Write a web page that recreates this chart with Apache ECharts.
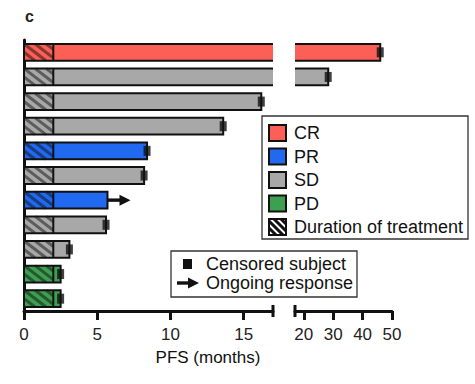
<!DOCTYPE html>
<html>
<head>
<meta charset="utf-8">
<script src="https://cdn.jsdelivr.net/npm/echarts@6/dist/echarts.min.js"></script>
<style>
  html, body { margin: 0; padding: 0; background: #fff; }
  #chart { width: 475px; height: 384px; }
</style>
</head>
<body>
<div id="chart"></div>
<script>
// Swimmer plot: progression-free survival per subject on a broken time axis.
const subjects = ['1', '2', '3', '4', '5', '6', '7', '8', '9', '10', '11'];
const response = ['CR', 'SD', 'SD', 'SD', 'PR', 'SD', 'PR', 'SD', 'SD', 'PD', 'PD'];
const pfsMonths = [46, 28.3, 16.2, 13.6, 8.4, 8.2, 5.7, 5.6, 3.1, 2.5, 2.5];
const treatmentMonths = [2, 2, 2, 2, 2, 2, 2, 2, 2, 2, 2];
const censored = [true, true, true, true, true, true, false, true, true, true, true];
const ongoing = [false, false, false, false, false, false, true, false, false, false, false];
const responseTypes = ['CR', 'PR', 'SD', 'PD'];
const responseColors = { CR: '#fb5f56', PR: '#2169ef', SD: '#a8a8a8', PD: '#3d9f50' };
const lowTicks = [0, 5, 10, 15];
const highTicks = [20, 30, 40, 50];
const axisBreak = 17;   // end of the linear segment, start of the compressed one
const axisEnd = 50;
const axisTitle = 'PFS (months)';
const panelLabel = 'c';

const FONT = '"Liberation Sans", Arial, Helvetica, sans-serif';
const INK = '#111';
const GRID_TOP = 40, GRID_H = 271;
const BAR_FRAC = 0.68;

// Clip a set of "\" hatch strokes (run = horizontal travel per unit height) to a rectangle
function hatchLines(x0, x1, y0, y1, step, run, style) {
  const h = y1 - y0;
  const w = h * run;
  const out = [];
  for (let s = x0 - w; s < x1; s += step) {
    const tMin = Math.max(0, (x0 - s) / w);
    const tMax = Math.min(1, (x1 - s) / w);
    if (tMax <= tMin) continue;
    out.push({
      type: 'line',
      shape: { x1: s + tMin * w, y1: y0 + tMin * h, x2: s + tMax * w, y2: y0 + tMax * h },
      style: style
    });
  }
  return out;
}

function barRenderer(startVal, isHigh) {
  return function (params, api) {
    const end = api.value(0);
    const row = api.value(1);
    const band = api.size([0, 1])[1];
    const h = band * BAR_FRAC;
    const pa = api.coord([startVal, row]);
    const pb = api.coord([end, row]);
    const x0 = pa[0], x1 = pb[0];
    const y0 = pa[1] - h / 2, y1 = pa[1] + h / 2;
    const children = [{
      type: 'rect',
      shape: { x: x0, y: y0, width: x1 - x0, height: h },
      style: { fill: responseColors[response[row]] }
    }];
    if (!isHigh) {
      const xt = api.coord([treatmentMonths[row], row])[0];
      children.push.apply(children, hatchLines(x0, xt, y0, y1, 11, 1.3,
        { stroke: 'rgba(15,15,15,0.5)', lineWidth: 3 }));
      children.push({
        type: 'line', shape: { x1: xt, y1: y0, x2: xt, y2: y1 },
        style: { stroke: INK, lineWidth: 2 }
      });
    }
    const openRight = !isHigh && pfsMonths[row] > axisBreak;
    let pts;
    if (isHigh) pts = [[x0, y0], [x1, y0], [x1, y1], [x0, y1]];
    else if (openRight) pts = [[x1, y0], [x0, y0], [x0, y1], [x1, y1]];
    else pts = [[x0, y0], [x1, y0], [x1, y1], [x0, y1], [x0, y0]];
    children.push({
      type: 'polyline', shape: { points: pts },
      style: { stroke: INK, lineWidth: 2, fill: null, lineJoin: 'miter' }
    });
    return { type: 'group', children: children };
  };
}

function arrowRenderer(params, api) {
  const p = api.coord([api.value(0), api.value(1)]);
  const x = p[0], y = p[1];
  return {
    type: 'group',
    children: [
      { type: 'rect', shape: { x: x, y: y - 1.7, width: 14, height: 3.4 }, style: { fill: INK } },
      { type: 'polygon', shape: { points: [[x + 12, y - 5.5], [x + 23, y], [x + 12, y + 5.5]] }, style: { fill: INK } }
    ]
  };
}

const lowBars = [], highBars = [], lowCens = [], highCens = [], arrows = [];
subjects.forEach(function (s, i) {
  lowBars.push([Math.min(pfsMonths[i], axisBreak), i]);
  if (pfsMonths[i] > axisBreak) highBars.push([pfsMonths[i], i]);
  if (censored[i]) (pfsMonths[i] > axisBreak ? highCens : lowCens).push([pfsMonths[i], i]);
  if (ongoing[i]) arrows.push([pfsMonths[i], i]);
});

function valueAxis(gridIndex, min, max, ticks) {
  return {
    type: 'value', gridIndex: gridIndex, min: min, max: max,
    splitLine: { show: false },
    axisLine: { show: true, onZero: false, lineStyle: { color: INK, width: 3 } },
    axisTick: { show: true, customValues: ticks, length: 9, lineStyle: { color: INK, width: 3 } },
    axisLabel: { customValues: ticks, fontSize: 17, color: '#222', fontFamily: FONT, margin: 15 }
  };
}

const chart = echarts.init(document.getElementById('chart'), null, { renderer: 'svg' });
chart.setOption({
  animation: false,
  backgroundColor: '#fff',
  title: {
    text: panelLabel, left: 20, top: 3,
    textStyle: { fontSize: 16, fontWeight: 'bold', color: '#222', fontFamily: FONT }
  },
  grid: [
    { left: 24, top: GRID_TOP, width: 249, height: GRID_H },
    { left: 295, top: GRID_TOP, width: 97, height: GRID_H }
  ],
  xAxis: [
    valueAxis(0, 0, axisBreak, lowTicks),
    valueAxis(1, axisBreak, axisEnd, highTicks)
  ],
  yAxis: [
    {
      type: 'category', gridIndex: 0, data: subjects, inverse: true,
      axisLine: { show: true, onZero: false, lineStyle: { color: INK, width: 3 } },
      axisTick: { show: false }, axisLabel: { show: false }, splitLine: { show: false }
    },
    { type: 'category', gridIndex: 1, data: subjects, inverse: true, show: false }
  ],
  series: [
    { type: 'custom', xAxisIndex: 0, yAxisIndex: 0, renderItem: barRenderer(0, false), data: lowBars, z: 2 },
    { type: 'custom', xAxisIndex: 1, yAxisIndex: 1, renderItem: barRenderer(axisBreak, true), data: highBars, z: 2 },
    { type: 'scatter', xAxisIndex: 0, yAxisIndex: 0, data: lowCens, symbol: 'rect', symbolSize: [7, 10],
      itemStyle: { color: INK }, z: 3 },
    { type: 'scatter', xAxisIndex: 1, yAxisIndex: 1, data: highCens, symbol: 'rect', symbolSize: [7, 10],
      itemStyle: { color: INK }, z: 3 },
    { type: 'custom', xAxisIndex: 0, yAxisIndex: 0, renderItem: arrowRenderer, data: arrows, z: 3 }
  ]
});

// Break caps, axis title and the two legend boxes
const axisY = GRID_TOP + GRID_H;
const capLow = chart.convertToPixel({ xAxisIndex: 0 }, axisBreak);
const capHigh = chart.convertToPixel({ xAxisIndex: 1 }, axisBreak);
const xStart = chart.convertToPixel({ xAxisIndex: 0 }, 0);
const xEnd = chart.convertToPixel({ xAxisIndex: 1 }, axisEnd);

const textStyle = function (t, x, y, size, align) {
  return { text: t, x: x, y: y, fill: '#111', fontSize: size, fontFamily: FONT,
    align: align || 'left', verticalAlign: 'middle' };
};

const graphics = [
  { type: 'line', shape: { x1: capLow, y1: axisY - 6, x2: capLow, y2: axisY + 6 }, style: { stroke: INK, lineWidth: 3 } },
  { type: 'line', shape: { x1: capHigh, y1: axisY - 6, x2: capHigh, y2: axisY + 6 }, style: { stroke: INK, lineWidth: 3 } },
  { type: 'text', style: textStyle(axisTitle, (xStart + xEnd) / 2, 357, 17, 'center') }
];

// Response legend
const lg = { x: 262, y: 116, w: 206, h: 123, row0: 133, step: 23.5 };
graphics.push({ type: 'rect', shape: { x: lg.x, y: lg.y, width: lg.w, height: lg.h },
  style: { fill: '#fff', stroke: '#333', lineWidth: 1.3 }, z: 10 });
responseTypes.forEach(function (r, k) {
  const cy = lg.row0 + k * lg.step;
  graphics.push({ type: 'rect', shape: { x: 269, y: cy - 8, width: 17, height: 16 },
    style: { fill: responseColors[r], stroke: INK, lineWidth: 2 }, z: 11 });
  graphics.push({ type: 'text', style: textStyle(r, 294, cy, 18), z: 11 });
});
(function () {
  const cy = lg.row0 + 4 * lg.step;
  const x0 = 269, y0 = cy - 8, x1 = 286, y1 = cy + 8;
  graphics.push({ type: 'rect', shape: { x: x0, y: y0, width: x1 - x0, height: y1 - y0 },
    style: { fill: '#fff', stroke: INK, lineWidth: 2 }, z: 11 });
  hatchLines(x0, x1, y0, y1, 7, 1, { stroke: INK, lineWidth: 3 }).forEach(function (l) {
    l.z = 11; graphics.push(l);
  });
  graphics.push({ type: 'rect', shape: { x: x0, y: y0, width: x1 - x0, height: y1 - y0 },
    style: { fill: null, stroke: INK, lineWidth: 2 }, z: 12 });
  graphics.push({ type: 'text', style: textStyle('Duration of treatment', 294, cy, 18), z: 11 });
})();

// Marker legend
graphics.push({ type: 'rect', shape: { x: 171, y: 251, width: 186, height: 46 },
  style: { fill: '#fff', stroke: '#333', lineWidth: 1.3 }, z: 10 });
graphics.push({ type: 'rect', shape: { x: 183, y: 259, width: 9, height: 10 }, style: { fill: INK }, z: 11 });
graphics.push({ type: 'text', style: textStyle('Censored subject', 206, 264, 18), z: 11 });
graphics.push({ type: 'rect', shape: { x: 177, y: 281.3, width: 12, height: 3.4 }, style: { fill: INK }, z: 11 });
graphics.push({ type: 'polygon', shape: { points: [[188, 277.5], [199, 283], [188, 288.5]] }, style: { fill: INK }, z: 11 });
graphics.push({ type: 'text', style: textStyle('Ongoing response', 206, 283, 18), z: 11 });

chart.setOption({ graphic: graphics });
</script>
</body>
</html>
